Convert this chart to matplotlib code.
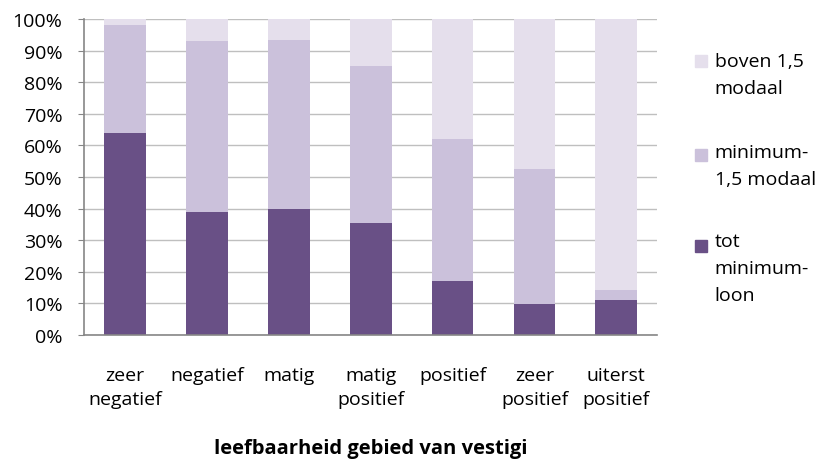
import numpy as np
import matplotlib.pyplot as plt
from matplotlib.patches import Rectangle

plt.rcParams['font.family'] = ['Open Sans', 'DejaVu Sans']

categories = ['zeer\nnegatief', 'negatief', 'matig', 'matig\npositief',
              'positief', 'zeer\npositief', 'uiterst\npositief']
# shares in % per category
tot_minimum = np.array([64, 39, 40, 35.5, 17, 9.7, 11])
minimum_15 = np.array([34, 54, 53.5, 49.5, 45, 42.8, 3.2])
boven_15 = 100 - tot_minimum - minimum_15

series = [tot_minimum, minimum_15, boven_15]
labels = ['tot\nminimum-\nloon', 'minimum-\n1,5 modaal', 'boven 1,5\nmodaal']
colors = ['#695086', '#CBC1DB', '#E5DFEC']

fig = plt.figure(figsize=(8.32, 4.60), dpi=100)
ax = fig.add_axes([0.101, 0.2696, 0.689, 0.687])

x = np.arange(len(categories))
bottom = np.zeros(len(categories))
for vals, col in zip(series, colors):
    ax.bar(x, vals, 0.51, bottom=bottom, color=col, zorder=2)
    bottom += vals

ax.set_xlim(-0.5, len(categories) - 0.5)
ax.set_ylim(0, 100)
ax.set_yticks(np.arange(0, 101, 10))
ax.set_yticklabels([f'{v}%' for v in range(0, 101, 10)], fontsize=14)
ax.set_xticks(x)
ax.set_xticklabels(categories, fontsize=14, linespacing=1.45)
ax.tick_params(axis='x', length=0, pad=22)
ax.tick_params(axis='y', length=4.5, color='#868686', pad=11)
ax.grid(axis='y', color='#BFBFBF', linewidth=1, zorder=0)
for s in ['top', 'right']:
    ax.spines[s].set_visible(False)
for s in ['left', 'bottom']:
    ax.spines[s].set_color('#868686')
    ax.spines[s].set_linewidth(1.2)
ax.set_xlabel('leefbaarheid gebied van vestigi', fontsize=14.5, fontweight='bold')
ax.xaxis.set_label_coords(0.5, -0.325)

# legend, top entry first
sq_y = [0.865, 0.661, 0.463]
txt_y = [0.885, 0.687, 0.493]
for lab, col, sy, ty in zip(labels[::-1], colors[::-1], sq_y, txt_y):
    fig.add_artist(Rectangle((0.835, sy - 0.013), 0.0144, 0.026,
                             transform=fig.transFigure, color=col))
    fig.text(0.859, ty, lab, fontsize=14, va='top', ha='left',
             linespacing=1.65)

fig.savefig('out.png', dpi=100)
